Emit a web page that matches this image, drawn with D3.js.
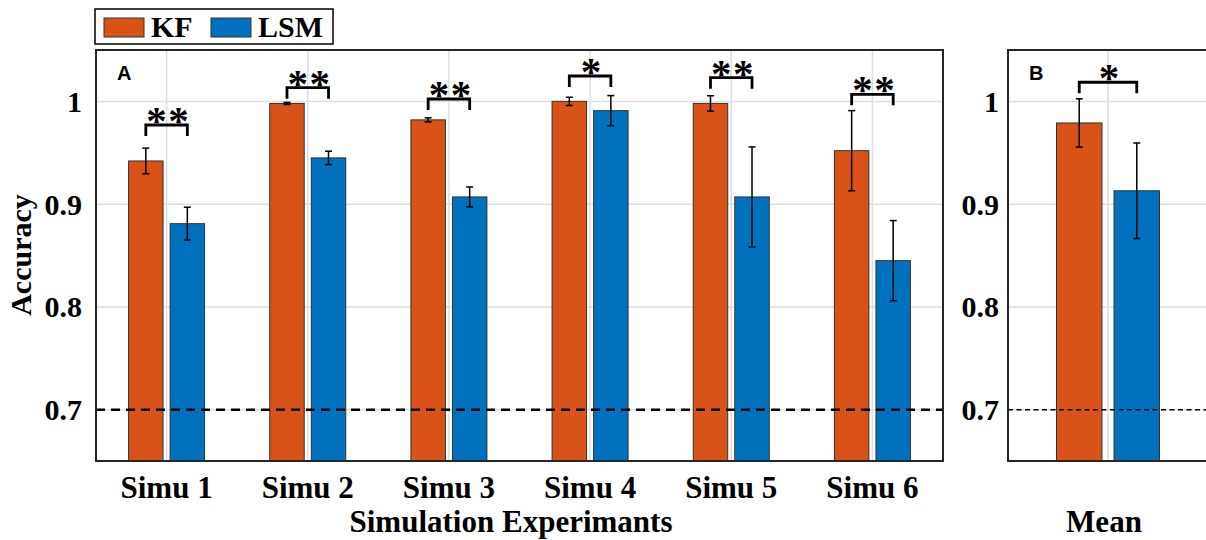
<!DOCTYPE html>
<html>
<head>
<meta charset="utf-8">
<script src="https://cdn.jsdelivr.net/npm/d3@7"></script>
<style>
  body { margin: 0; background: #fff; }
  svg text { font-family: "Liberation Serif", "Times New Roman", serif; font-weight: bold; }
</style>
</head>
<body>
<div id="chart"></div>
<script>
// data
var categories = ["Simu 1", "Simu 2", "Simu 3", "Simu 4", "Simu 5", "Simu 6"];
var series = ["KF", "LSM"];
var kfMean = [0.942, 0.998, 0.982, 1.000, 0.998, 0.952];
var kfErr = [0.0125, 0.001, 0.002, 0.004, 0.0075, 0.039];
var lsmMean = [0.881, 0.945, 0.907, 0.991, 0.907, 0.845];
var lsmErr = [0.016, 0.0065, 0.0097, 0.0146, 0.0487, 0.039];
var sigMarks = ["**", "**", "**", "*", "**", "**"];
var sigLevel = [0.977, 1.0133, 1.0023, 1.0247, 1.0231, 1.0069];

var meanCategory = ["Mean"];
var meanKF = [0.979];
var meanKFErr = [0.0235];
var meanLSM = [0.913];
var meanLSMErr = [0.0465];
var meanSig = ["*"];
var meanSigLevel = [1.0186];

var yTicks = [0.7, 0.8, 0.9, 1];
var yTickLabels = ["0.7", "0.8", "0.9", "1"];
var threshold = 0.7;

var width = 1206, height = 540;
var colors = { KF: "#D95319", LSM: "#0072BD" };

var svg = d3.select("#chart").append("svg").attr("width", width).attr("height", height);

var y = d3.scaleLinear().domain([0.65, 1.05]).range([461, 50]);

function rows(cats, m1, e1, m2, e2, sig, lev) {
  return cats.map(function(c, i) {
    return { cat: c, vals: [{ s: "KF", v: m1[i], e: e1[i] }, { s: "LSM", v: m2[i], e: e2[i] }], sig: sig[i], lev: lev[i] };
  });
}

function drawPanel(opt) {
  var data = rows(opt.cats, opt.m1, opt.e1, opt.m2, opt.e2, opt.sig, opt.lev);
  var g = svg.append("g");

  var clip = "clip" + opt.letter;
  svg.append("clipPath").attr("id", clip).append("rect")
    .attr("x", opt.left).attr("y", 50).attr("width", opt.right - opt.left).attr("height", 411);
  var inner = g.append("g").attr("clip-path", "url(#" + clip + ")");

  var x = d3.scaleBand().domain(opt.cats).range([opt.left, opt.right]);
  var x1 = d3.scaleBand().domain(series).range([-opt.half, opt.half]).paddingInner(opt.pad);

  // grid
  inner.selectAll(".hg").data(yTicks).enter().append("line")
    .attr("x1", opt.left).attr("x2", opt.right)
    .attr("y1", function(d) { return y(d); }).attr("y2", function(d) { return y(d); })
    .attr("stroke", "#dedede").attr("stroke-width", 1.5);
  inner.selectAll(".vg").data(opt.cats).enter().append("line")
    .attr("x1", function(d) { return x(d) + x.bandwidth() / 2; })
    .attr("x2", function(d) { return x(d) + x.bandwidth() / 2; })
    .attr("y1", 50).attr("y2", 461)
    .attr("stroke", "#dedede").attr("stroke-width", 1.5);

  var grp = inner.selectAll(".grp").data(data).enter().append("g")
    .attr("transform", function(d) { return "translate(" + (x(d.cat) + x.bandwidth() / 2) + ",0)"; });

  grp.selectAll("rect").data(function(d) { return d.vals; }).enter().append("rect")
    .attr("x", function(d) { return x1(d.s); })
    .attr("width", x1.bandwidth())
    .attr("y", function(d) { return y(d.v); })
    .attr("height", function(d) { return y(0.65) - y(d.v) + 2; })
    .attr("fill", function(d) { return colors[d.s]; })
    .attr("stroke", "#333").attr("stroke-width", 1);

  // error bars
  var eb = grp.selectAll(".eb").data(function(d) { return d.vals; }).enter().append("g");
  function cx(d) { return x1(d.s) + x1.bandwidth() / 2; }
  eb.append("line")
    .attr("x1", cx).attr("x2", cx)
    .attr("y1", function(d) { return y(d.v + d.e); })
    .attr("y2", function(d) { return y(d.v - d.e); })
    .attr("stroke", "#000").attr("stroke-width", 1.5);
  [1, -1].forEach(function(sg) {
    eb.append("line")
      .attr("x1", function(d) { return cx(d) - 3.5; }).attr("x2", function(d) { return cx(d) + 3.5; })
      .attr("y1", function(d) { return y(d.v + sg * d.e); })
      .attr("y2", function(d) { return y(d.v + sg * d.e); })
      .attr("stroke", "#000").attr("stroke-width", 1.5);
  });

  // threshold line
  inner.append("line")
    .attr("x1", opt.left).attr("x2", opt.right)
    .attr("y1", y(threshold)).attr("y2", y(threshold))
    .attr("stroke", "#000").attr("stroke-width", opt.dashW)
    .attr("stroke-dasharray", opt.dash);

  // significance brackets
  grp.append("path")
    .attr("d", function(d) {
      var a = x1("KF") + x1.bandwidth() / 2, b = x1("LSM") + x1.bandwidth() / 2;
      var t = y(d.lev), l = t + 11;
      return "M" + a + "," + l + "V" + t + "H" + b + "V" + l;
    })
    .attr("fill", "none").attr("stroke", "#000").attr("stroke-width", 2.8);
  grp.each(function(d) {
    var n = d.sig.length;
    for (var k = 0; k < n; k++) {
      d3.select(this).append("text")
        .attr("x", 1 + (k - (n - 1) / 2) * 22)
        .attr("y", y(d.lev) + 9)
        .attr("text-anchor", "middle")
        .attr("font-size", "41px")
        .text("*");
    }
  });

  // frame
  g.append("path")
    .attr("d", "M" + opt.right + ",50H" + opt.left + "V461H" + opt.right + (opt.closed ? "Z" : ""))
    .attr("fill", "none").attr("stroke", "#262626").attr("stroke-width", 2);

  // y tick labels
  g.selectAll(".yt").data(yTicks).enter().append("text")
    .attr("x", opt.left - opt.tickGap)
    .attr("y", function(d) { return y(d) + 10.5; })
    .attr("text-anchor", "end")
    .attr("font-size", "30px")
    .text(function(d, i) { return yTickLabels[i]; });

  // x tick labels
  if (opt.showTicks) {
    g.selectAll(".xt").data(opt.cats).enter().append("text")
      .attr("x", function(d) { return x(d) + x.bandwidth() / 2; })
      .attr("y", 498)
      .attr("text-anchor", "middle")
      .attr("font-size", "31px")
      .text(function(d) { return d; });
  }

  g.append("text")
    .attr("x", opt.titleX).attr("y", 532)
    .attr("text-anchor", "middle")
    .attr("font-size", "31px")
    .text(opt.title);

  g.append("text")
    .attr("x", opt.left + 21).attr("y", 80)
    .attr("font-size", "20px")
    .style("font-family", "'Liberation Sans', Arial, sans-serif")
    .text(opt.letter);
}

drawPanel({ cats: categories, m1: kfMean, e1: kfErr, m2: lsmMean, e2: lsmErr, sig: sigMarks, lev: sigLevel,
  left: 96, right: 943, half: 38, pad: 0.17, dash: "9,6", dashW: 2.5, closed: true, tickGap: 14,
  showTicks: true, title: "Simulation Experimants", titleX: 511, letter: "A" });

drawPanel({ cats: meanCategory, m1: meanKF, e1: meanKFErr, m2: meanLSM, e2: meanLSMErr, sig: meanSig, lev: meanSigLevel,
  left: 1008, right: 1208, half: 51.5, pad: 0.21, dash: "5,3.5", dashW: 1.5, closed: false, tickGap: 9,
  showTicks: false, title: "Mean", titleX: 1104, letter: "B" });

// y axis title
svg.append("text")
  .attr("transform", "translate(31,255) rotate(-90)")
  .attr("text-anchor", "middle")
  .attr("font-size", "30px")
  .text("Accuracy");

// legend
var legend = svg.append("g");
legend.append("rect").attr("x", 95).attr("y", 9).attr("width", 238).attr("height", 35)
  .attr("fill", "#fff").attr("stroke", "#000").attr("stroke-width", 1.5);
var legX = [104, 211];
series.forEach(function(s, i) {
  legend.append("rect").attr("x", legX[i]).attr("y", 18).attr("width", 40).attr("height", 19)
    .attr("fill", colors[s]).attr("stroke", "#333").attr("stroke-width", 1);
  legend.append("text").attr("x", legX[i] + 47).attr("y", 37).attr("font-size", "30px").text(s);
});
</script>
</body>
</html>
